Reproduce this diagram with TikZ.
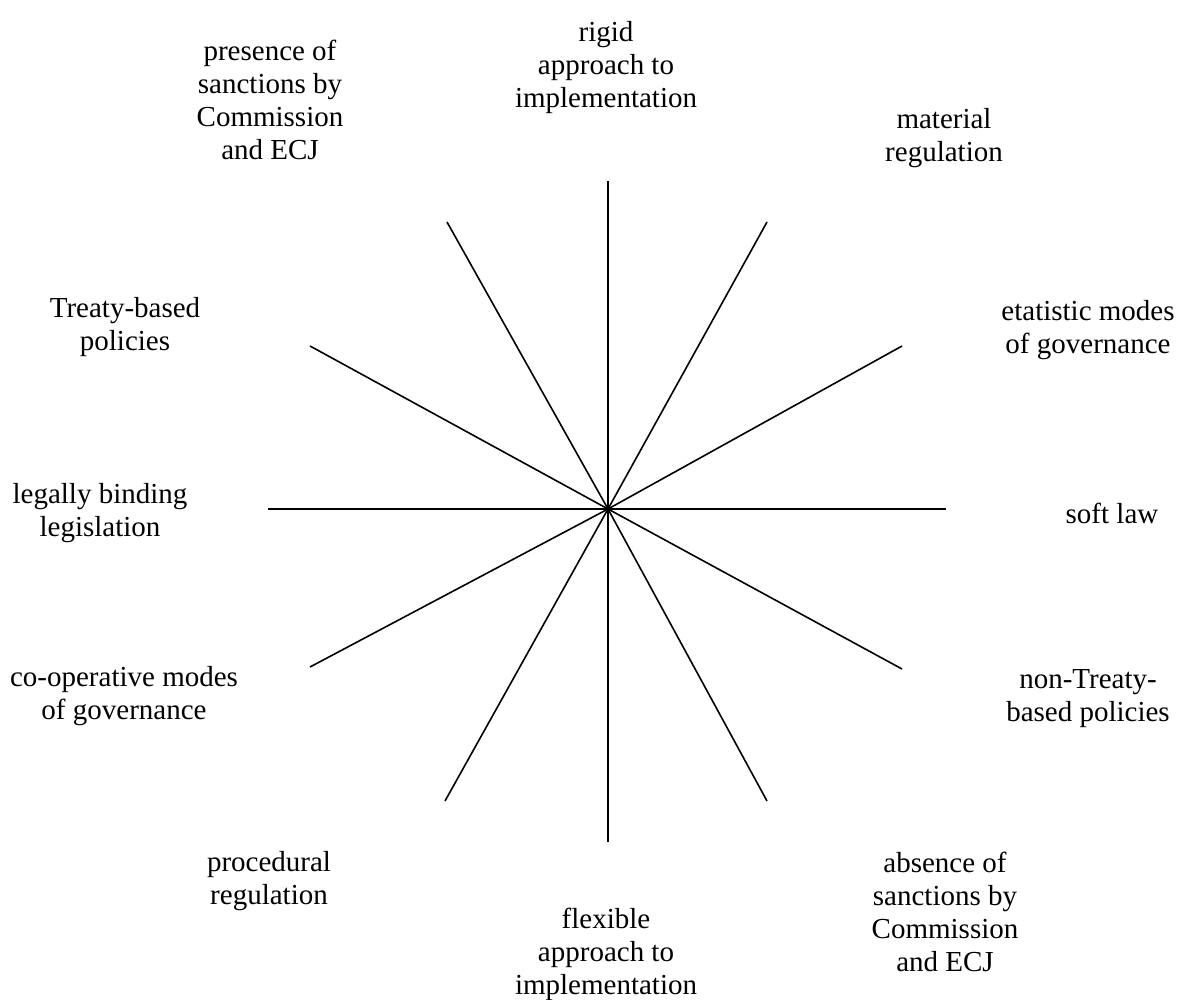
\documentclass[tikz,border=0pt]{standalone}
\usepackage{fontspec}
\setmainfont{Liberation Serif}
\usepackage{tikz}
\usetikzlibrary{positioning}
\tikzset{pole/.style={align=center,inner sep=0pt,font=\fontsize{14.5}{16.5}\selectfont}}
\tikzset{spoke/.style={line width=0.8pt}}

\begin{document}
\begin{tikzpicture}[x=0.5pt,y=-0.5pt]
        \useasboundingbox (0,0) rectangle (1177,1000);
        \coordinate (hub) at (608,509);
        % ends of the spokes, clockwise from the top
        \coordinate (e12) at (608,181);
        \coordinate (e1) at (767,222);
        \coordinate (e2) at (902,346);
        \coordinate (e3) at (946,509);
        \coordinate (e4) at (902,669);
        \coordinate (e5) at (767,801);
        \coordinate (e6) at (608,842);
        \coordinate (e7) at (445,801);
        \coordinate (e8) at (310,667);
        \coordinate (e9) at (268,509);
        \coordinate (e10) at (310,346);
        \coordinate (e11) at (447,222);

        \draw[spoke] (e12) -- (hub) -- (e6);
        \draw[spoke] (e1) -- (hub) -- (e7);
        \draw[spoke] (e2) -- (hub) -- (e8);
        \draw[spoke] (e3) -- (hub) -- (e9);
        \draw[spoke] (e4) -- (hub) -- (e10);
        \draw[spoke] (e5) -- (hub) -- (e11);

        \node[pole] (rigid) at (606,68) {rigid\\approach to\\implementation};
        \node[pole] (material) at (944,138) {material\\regulation};
        \node[pole] (etatistic) at (1088,330) {etatistic modes\\of governance};
        \node[pole] (soft) at (1112,513) {soft law};
        \node[pole] (nontreaty) at (1088,699) {non-Treaty-\\based policies};
        \node[pole] (absence) at (945,912) {absence of\\sanctions by\\Commission\\and ECJ};
        \node[pole] (flexible) at (606,954) {flexible\\approach to\\implementation};
        \node[pole] (procedural) at (269,881) {procedural\\regulation};
        \node[pole] (cooperative) at (124,696) {co-operative modes\\of governance};
        \node[pole] (binding) at (100,513) {legally binding\\legislation};
        \node[pole] (treaty) at (125,327) {Treaty-based\\policies};
        \node[pole] (presence) at (270,100) {presence of\\sanctions by\\Commission\\and ECJ};
\end{tikzpicture}
\end{document}
